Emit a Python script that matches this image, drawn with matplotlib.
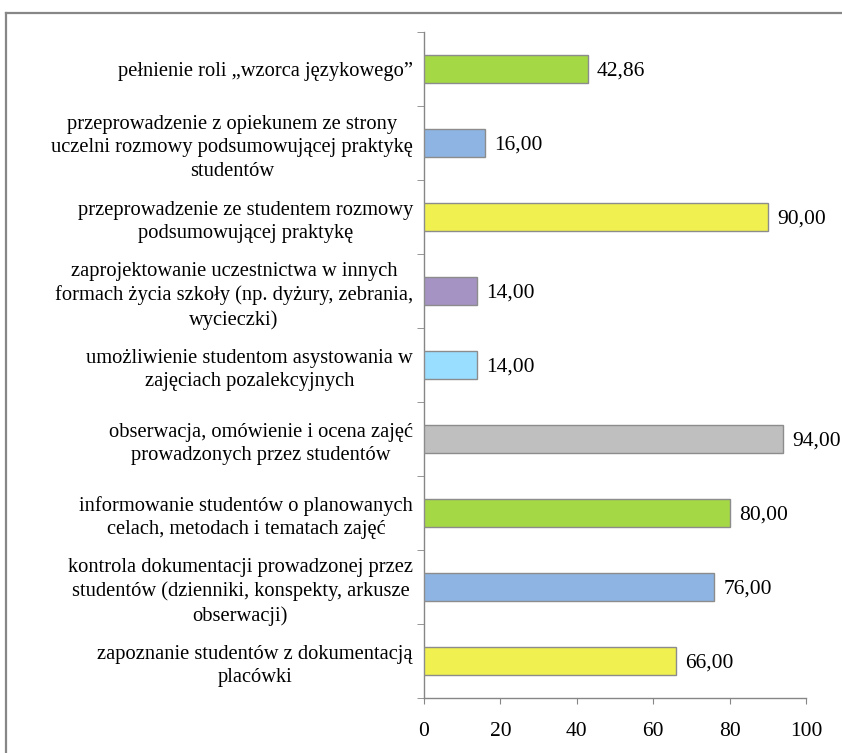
import matplotlib
matplotlib.use("Agg")
import matplotlib.pyplot as plt
from matplotlib.lines import Line2D
import numpy as np

LABELS = [
    "pełnienie roli „wzorca językowego”",
    "przeprowadzenie z opiekunem ze strony\nuczelni rozmowy podsumowującej praktykę\nstudentów",
    "przeprowadzenie ze studentem rozmowy\npodsumowującej praktykę",
    "zaprojektowanie uczestnictwa w innych\nformach życia szkoły (np. dyżury, zebrania,\nwycieczki)",
    "umożliwienie studentom asystowania w\nzajęciach pozalekcyjnych",
    "obserwacja, omówienie i ocena zajęć\nprowadzonych przez studentów",
    "informowanie studentów o planowanych\ncelach, metodach i tematach zajęć",
    "kontrola dokumentacji prowadzonej przez\nstudentów (dzienniki, konspekty, arkusze\nobserwacji)",
    "zapoznanie studentów z dokumentacją\nplacówki",
]
VALUES = [42.86, 16.00, 90.00, 14.00, 14.00, 94.00, 80.00, 76.00, 66.00]
COLORS = ["#A4D844", "#8EB4E3", "#F0F050", "#A593C4", "#99DDFF",
          "#BFBFBF", "#A4D844", "#8EB4E3", "#F0F050"]
XTICKS = [0, 20, 40, 60, 80, 100]

plt.rcParams['font.family'] = ['Liberation Serif', 'DejaVu Serif']

fig = plt.figure(figsize=(8.42, 7.53), dpi=100)
ax = fig.add_axes([424 / 842, 1 - 698 / 753, 382 / 842, 666 / 753])

y = np.arange(len(VALUES))
ax.barh(y, VALUES, height=0.39, color=COLORS, edgecolor="#8C8C8C",
        linewidth=1.0, zorder=3)
for yi, v in zip(y, VALUES):
    ax.text(v + 2.4, yi, f"{v:.2f}".replace(".", ","),
            va="center_baseline", ha="left", fontsize=15.5)

ax.set_xlim(0, 100)
ax.set_ylim(len(VALUES) - 0.5, -0.5)
ax.set_xticks(XTICKS)
ax.set_yticks(y)
ax.set_yticklabels(LABELS, multialignment="center", fontsize=14.8,
                   linespacing=1.32)
ax.set_yticks(np.arange(-0.5, len(VALUES)), minor=True)
ax.tick_params(axis="y", which="major", length=0, pad=8)
ax.tick_params(axis="y", which="minor", length=5, color="#868686",
               direction="out")
ax.tick_params(axis="x", length=4, color="#868686", labelsize=15.5, pad=13)

for s in ["top", "right"]:
    ax.spines[s].set_visible(False)
for s in ["left", "bottom"]:
    ax.spines[s].set_color("#868686")
    ax.spines[s].set_linewidth(1.0)

# outer chart border (only top and left visible in the crop)
fig.add_artist(Line2D([6 / 842, 6 / 842], [-0.1, 1 - 13 / 753],
                      transform=fig.transFigure, color="#878787", lw=1.6))
fig.add_artist(Line2D([6 / 842, 1.1], [1 - 13 / 753, 1 - 13 / 753],
                      transform=fig.transFigure, color="#878787", lw=1.6))

fig.savefig("out.png", dpi=100)
